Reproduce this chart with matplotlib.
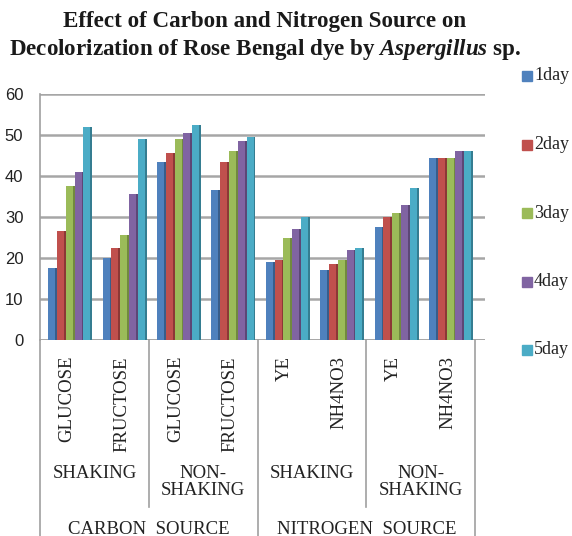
import matplotlib
matplotlib.use("Agg")
import matplotlib.pyplot as plt
import numpy as np
from matplotlib.transforms import blended_transform_factory

plt.rcParams['mathtext.fontset'] = 'custom'
plt.rcParams['mathtext.it'] = 'Liberation Serif:italic:bold'
plt.rcParams['mathtext.rm'] = 'Liberation Serif:bold'

# data
categories = ['GLUCOSE', 'FRUCTOSE', 'GLUCOSE', 'FRUCTOSE', 'YE', 'NH4NO3', 'YE', 'NH4NO3']
conditions = ['SHAKING', 'NON-\nSHAKING', 'SHAKING', 'NON-\nSHAKING']
sources = ['CARBON  SOURCE', 'NITROGEN  SOURCE']
series_labels = ['1day', '2day', '3day', '4day', '5day']
day1 = [17.5, 20.0, 43.5, 36.5, 19.0, 17.0, 27.5, 44.5]
day2 = [26.5, 22.5, 45.5, 43.5, 19.5, 18.5, 30.0, 44.5]
day3 = [37.5, 25.5, 49.0, 46.0, 25.0, 19.5, 31.0, 44.5]
day4 = [41.0, 35.5, 50.5, 48.5, 27.0, 22.0, 33.0, 46.0]
day5 = [52.0, 49.0, 52.5, 49.5, 30.0, 22.5, 37.0, 46.0]
yticks = [0, 10, 20, 30, 40, 50, 60]

series = [day1, day2, day3, day4, day5]
colors = ['#4F81BD', '#C0504D', '#9BBB59', '#8064A2', '#4BACC6']
side_colors = ['#385D8A', '#8C3836', '#71893F', '#5C4776', '#357D91']

W, H = 572, 536
fig = plt.figure(figsize=(W / 100, H / 100), dpi=100)
ax = fig.add_axes([40 / W, 1 - 340 / H, (485 - 40) / W, (340 - 94) / H])

x = np.arange(len(categories))
step = 0.162
face = 0.128
for j, vals in enumerate(series):
    left = x - 0.40 + 0.05 + j * step
    ax.bar(left, vals, width=face, align='edge', color=colors[j], zorder=3)
    ax.bar(left + face, vals, width=step - face, align='edge', color=side_colors[j], zorder=3)

ax.set_xlim(-0.5, 7.68)
ax.set_ylim(0, 60)
ax.set_yticks(yticks)
ax.set_yticklabels([str(t) for t in yticks], fontfamily='Liberation Sans', fontsize=12, color='#222222')
ax.tick_params(axis='y', length=0, pad=12)
ax.set_xticks([])
for t in yticks:
    ax.axhline(t, color='#a6a6a6' if t else '#8c8c8c', lw=1.8, zorder=1)
for s in ['top', 'right', 'bottom']:
    ax.spines[s].set_visible(False)
ax.spines['left'].set_color('#a0a0a0')
ax.spines['left'].set_linewidth(1.2)

# category table below the axis
tr = blended_transform_factory(ax.transData, fig.transFigure)
fy = lambda py: 1 - py / H
for xs, bottom in [(-0.5, 536), (1.5, 507), (3.5, 536), (5.5, 507), (7.5, 536)]:
    ax.plot([xs, xs], [fy(340), fy(bottom)], color='#a0a0a0', lw=1.2, transform=tr, clip_on=False)

for i, c in enumerate(categories):
    ax.text(i, fy(356), c, transform=tr, rotation=90, ha='center', va='top',
            fontfamily='Liberation Serif', fontsize=13.5, color='#222222')
for k, c in enumerate(conditions):
    ax.text(2 * k + 0.5, fy(465), c, transform=tr, ha='center', va='top', linespacing=1.0,
            fontfamily='Liberation Serif', fontsize=13.5, color='#222222')
for k, s in enumerate(sources):
    ax.text(4 * k + 1.5, fy(529), s, transform=tr, ha='center', va='center',
            fontfamily='Liberation Serif', fontsize=13.5, color='#222222')

# title
fig.text(265 / W, fy(22), 'Effect of Carbon and Nitrogen Source on', ha='center', va='center',
         fontfamily='Liberation Serif', fontweight='bold', fontsize=16.6, color='#1a1a1a')
fig.text(265 / W, fy(49), r'Decolorization of Rose Bengal dye by $\mathit{Aspergillus}$ sp.',
         ha='center', va='center', fontfamily='Liberation Serif', fontweight='bold',
         fontsize=16.6, color='#1a1a1a')

# legend
for j, lab in enumerate(series_labels):
    ly = 76 + j * 68.5
    fig.patches.append(plt.Rectangle((522 / W, fy(ly + 5)), 10 / W, 10 / H,
                                     transform=fig.transFigure, color=colors[j]))
    fig.text(534 / W, fy(ly), lab, ha='left', va='center', fontfamily='Liberation Serif',
             fontsize=13, color='#222222')

fig.savefig('out.png', dpi=100)
